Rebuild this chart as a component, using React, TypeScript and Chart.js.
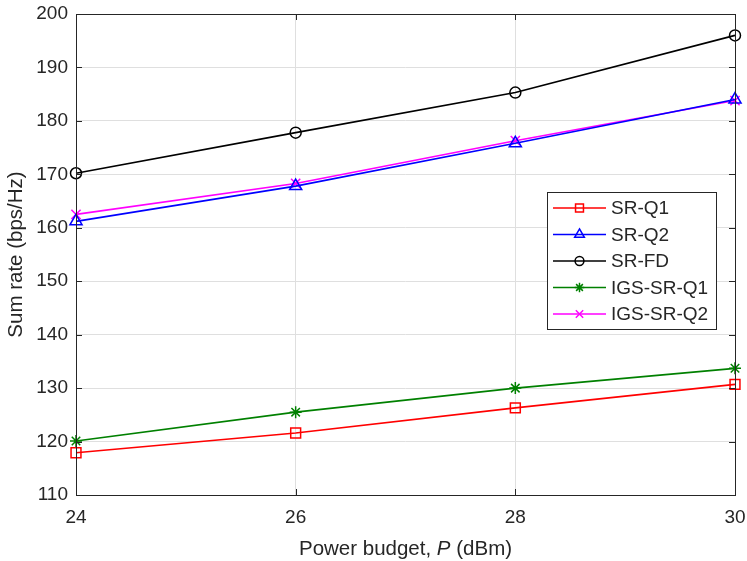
import React, { useEffect, useRef } from 'react';
import { Chart, registerables } from 'chart.js';
import { drawPoint } from 'chart.js/helpers';

Chart.register(...registerables);

const powerBudget = [24, 26, 28, 30];
const srQ1 = [117.9, 121.6, 126.3, 130.7];
const srQ2 = [161.2, 167.8, 175.8, 184.0];
const srFD = [170.2, 177.8, 185.3, 196.0];
const igsSrQ1 = [120.1, 125.5, 130.0, 133.7];
const igsSrQ2 = [162.5, 168.3, 176.3, 183.8];
const xTicks = [24, 26, 28, 30];
const yMin = 110;
const yMax = 200;

const FONT = '"Liberation Sans", Arial, Helvetica, sans-serif';
const TEXT = '#262626';

const mk = (label: string, data: number[], color: string, pointStyle: string, radius: number) => ({
  label,
  data: data.map((y, i) => ({ x: powerBudget[i], y })),
  borderColor: color,
  backgroundColor: 'rgba(0,0,0,0)',
  pointBorderColor: color,
  pointBackgroundColor: 'rgba(0,0,0,0)',
  pointStyle,
  pointRadius: radius,
  pointBorderWidth: 1.5,
  borderWidth: 1.6,
  tension: 0,
  clip: false,
});

// MATLAB-style box, inward ticks, x title with italic P and legend inside the axes
const matlabPlugin = {
  id: 'matlabStyle',
  afterDraw(chart: any) {
    const { ctx, chartArea: a, scales } = chart;
    ctx.save();
    ctx.strokeStyle = TEXT;
    ctx.lineWidth = 1;
    const tl = 6;
    scales.y.ticks.forEach((t: any) => {
      const y = Math.round(scales.y.getPixelForValue(t.value)) + 0.5;
      ctx.beginPath();
      ctx.moveTo(a.left, y); ctx.lineTo(a.left + tl, y);
      ctx.moveTo(a.right, y); ctx.lineTo(a.right - tl, y);
      ctx.stroke();
    });
    scales.x.ticks.forEach((t: any) => {
      const x = Math.round(scales.x.getPixelForValue(t.value)) + 0.5;
      ctx.beginPath();
      ctx.moveTo(x, a.bottom); ctx.lineTo(x, a.bottom - tl);
      ctx.moveTo(x, a.top); ctx.lineTo(x, a.top + tl);
      ctx.stroke();
    });
    ctx.strokeRect(Math.round(a.left) + 0.5, Math.round(a.top) + 0.5, Math.round(a.right - a.left), Math.round(a.bottom - a.top));

    // x-axis title
    const parts = [
      { t: 'Power budget, ', f: `20.5px ${FONT}` },
      { t: 'P', f: `italic 20.5px ${FONT}` },
      { t: ' (dBm)', f: `20.5px ${FONT}` },
    ];
    let total = 0;
    parts.forEach((p) => { ctx.font = p.f; total += ctx.measureText(p.t).width; });
    let x = (a.left + a.right) / 2 - total / 2;
    ctx.fillStyle = TEXT;
    ctx.textBaseline = 'middle';
    ctx.textAlign = 'left';
    parts.forEach((p) => { ctx.font = p.f; ctx.fillText(p.t, x, 549); x += ctx.measureText(p.t).width; });

    // legend
    const bw = 169, bh = 137;
    const bx = a.right - 19 - bw;
    const by = a.top + 178;
    ctx.fillStyle = '#ffffff';
    ctx.fillRect(bx, by, bw, bh);
    ctx.strokeStyle = TEXT;
    ctx.lineWidth = 1;
    ctx.strokeRect(Math.round(bx) + 0.5, Math.round(by) + 0.5, bw, bh);
    const rowH = 26.5;
    chart.data.datasets.forEach((ds: any, i: number) => {
      const cy = by + 16 + i * rowH;
      ctx.strokeStyle = ds.borderColor;
      ctx.lineWidth = 1.6;
      ctx.beginPath();
      ctx.moveTo(bx + 6, cy); ctx.lineTo(bx + 59, cy);
      ctx.stroke();
      ctx.lineWidth = 1.5;
      ctx.fillStyle = 'rgba(0,0,0,0)';
      drawPoint(ctx, { pointStyle: ds.pointStyle, radius: ds.pointRadius * 0.8, borderWidth: 1.5, rotation: 0 } as any, bx + 32.5, cy);
      ctx.fillStyle = TEXT;
      ctx.font = `19px ${FONT}`;
      ctx.textAlign = 'left';
      ctx.textBaseline = 'middle';
      ctx.fillText(ds.label, bx + 64, cy + 1);
    });
    ctx.restore();
  },
};

const App: React.FC = () => {
  const canvasRef = useRef<HTMLCanvasElement>(null);

  useEffect(() => {
    document.body.style.margin = '0';
    if (!canvasRef.current) return;
    const chart = new Chart(canvasRef.current, {
      type: 'line',
      data: {
        datasets: [
          mk('SR-Q1', srQ1, '#ff0000', 'rect', 7),
          mk('SR-Q2', srQ2, '#0000ff', 'triangle', 7),
          mk('SR-FD', srFD, '#000000', 'circle', 5.5),
          mk('IGS-SR-Q1', igsSrQ1, '#008000', 'star', 6),
          mk('IGS-SR-Q2', igsSrQ2, '#ff00ff', 'crossRot', 6.5),
        ] as any,
      },
      options: {
        animation: false,
        responsive: true,
        maintainAspectRatio: false,
        layout: { padding: { top: 14, right: 12, left: 0, bottom: 0 } },
        plugins: { legend: { display: false }, tooltip: { enabled: false } },
        scales: {
          x: {
            type: 'linear',
            min: 24,
            max: 30,
            afterBuildTicks: (s: any) => { s.ticks = xTicks.map((v) => ({ value: v })); },
            afterFit: (s: any) => { s.height = 66; s.paddingLeft = 0; s.paddingRight = 0; },
            grid: { color: '#dfdfdf', lineWidth: 1, drawTicks: false },
            border: { display: false },
            ticks: { color: TEXT, font: { family: FONT, size: 19 }, padding: 11, maxRotation: 0 },
          },
          y: {
            type: 'linear',
            min: yMin,
            max: yMax,
            afterFit: (s: any) => { s.width = 76; s.paddingTop = 0; s.paddingBottom = 0; },
            grid: { color: '#dfdfdf', lineWidth: 1, drawTicks: false },
            border: { display: false },
            ticks: { color: TEXT, font: { family: FONT, size: 19 }, padding: 8, stepSize: 10 },
            title: {
              display: true,
              text: 'Sum rate (bps/Hz)',
              color: TEXT,
              font: { family: FONT, size: 20.5 },
              padding: { top: 4, bottom: 0 },
            },
          },
        },
      },
      plugins: [matlabPlugin],
    });
    return () => chart.destroy();
  }, []);

  return (
    <div style={{ width: 747, height: 561, position: 'relative', background: '#fff' }}>
      <canvas ref={canvasRef}></canvas>
    </div>
  );
};

export default App;
